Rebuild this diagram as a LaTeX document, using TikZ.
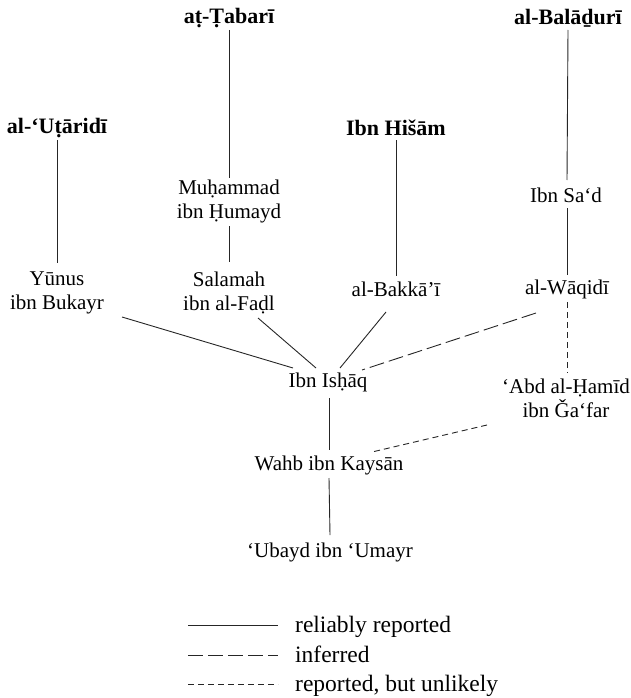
\documentclass[tikz,border=0pt]{standalone}
\usepackage{fontspec}
\setmainfont{Liberation Serif}
\usetikzlibrary{calc}
\begin{document}
\begin{tikzpicture}[x=1pt,y=-1pt,
  every node/.style={font=\fontsize{21}{24}\selectfont, align=center, inner sep=0pt, text=black},
  head/.style={font=\fontsize{22}{24}\selectfont\bfseries},
  legtext/.style={font=\fontsize{23.5}{25}\selectfont, anchor=base west},
  rel/.style={draw=black!85, line width=0.9pt},
  inf/.style={rel, dash pattern=on 15pt off 5pt},
  unl/.style={rel, dash pattern=on 6pt off 4pt}]
\useasboundingbox (0,0) rectangle (631,698);
% heads
\node[head] (tab) at (229,18) {aṭ-Ṭabarī};
\node[head] (bal) at (568,18) {al-Balāḏurī};
\node[head] (uta) at (57,128) {al-‘Uṭāridī};
\node[head] (his) at (396,128) {Ibn Hišām};
% transmitters
\node (muh) at (229,201) {Muḥammad\\ibn Ḥumayd};
\node (sad) at (566,195) {Ibn Sa‘d};
\node (yun) at (57,293) {Yūnus\\ibn Bukayr};
\node (sal) at (229,293) {Salamah\\ibn al-Faḍl};
\node (bak) at (396,289) {al-Bakkā’ī};
\node (waq) at (567,289) {al-Wāqidī};
\node (ish) at (328,382) {Ibn Isḥāq};
\node (abd) at (566,398) {‘Abd al-Ḥamīd\\ibn Ǧa‘far};
\node (wahb) at (329,465) {Wahb ibn Kaysān};
\node (uba) at (330,552) {‘Ubayd ibn ‘Umayr};
% vertical links
\draw[rel] ($(tab)+(0,12)$) -- ($(muh)+(0,-23)$);
\draw[rel] ($(muh)+(0,25)$) -- ($(sal)+(0,-31)$);
\draw[rel] ($(uta)+(0,12)$) -- ($(yun)+(0,-30)$);
\draw[rel] ($(his)+(0,12)$) -- ($(bak)+(0,-13)$);
\draw[rel] ($(bal)+(0,12)$) -- ($(sad)+(1,-15)$);
\draw[rel] ($(sad)+(1,13)$) -- ($(waq)+(0,-14)$);
\draw[rel] ($(ish)+(1,16)$) -- ($(wahb)+(0,-15)$);
\draw[rel] ($(wahb)+(0,13)$) -- ($(uba)+(0,-17)$);
% converging links
\draw[rel] ($(yun)+(65,24)$) -- ($(ish)+(-35,-14)$);
\draw[rel] ($(sal)+(29,25)$) -- ($(ish)+(-12,-14)$);
\draw[rel] ($(bak)+(-10,23)$) -- ($(ish)+(12,-14)$);
\draw[inf] ($(waq)+(-31,24)$) -- ($(ish)+(34,-12)$);
\draw[unl] ($(waq)+(0,13)$) -- ($(abd)+(1,-25)$);
\draw[unl] ($(abd)+(-79,27)$) -- ($(wahb)+(43,-13)$);
% legend
\coordinate (l1a) at (188,625); \coordinate (l1b) at (278,625);
\coordinate (l2a) at (188,655); \coordinate (l2b) at (278,655);
\coordinate (l3a) at (188,684); \coordinate (l3b) at (278,684);
\draw[rel] (l1a) -- (l1b);
\draw[inf] (l2a) -- (l2b);
\draw[unl] (l3a) -- (l3b);
\node[legtext] (t1) at (295,632) {reliably reported};
\node[legtext] (t2) at (295,662) {inferred};
\node[legtext] (t3) at (295,691) {reported, but unlikely};
\end{tikzpicture}
\end{document}
